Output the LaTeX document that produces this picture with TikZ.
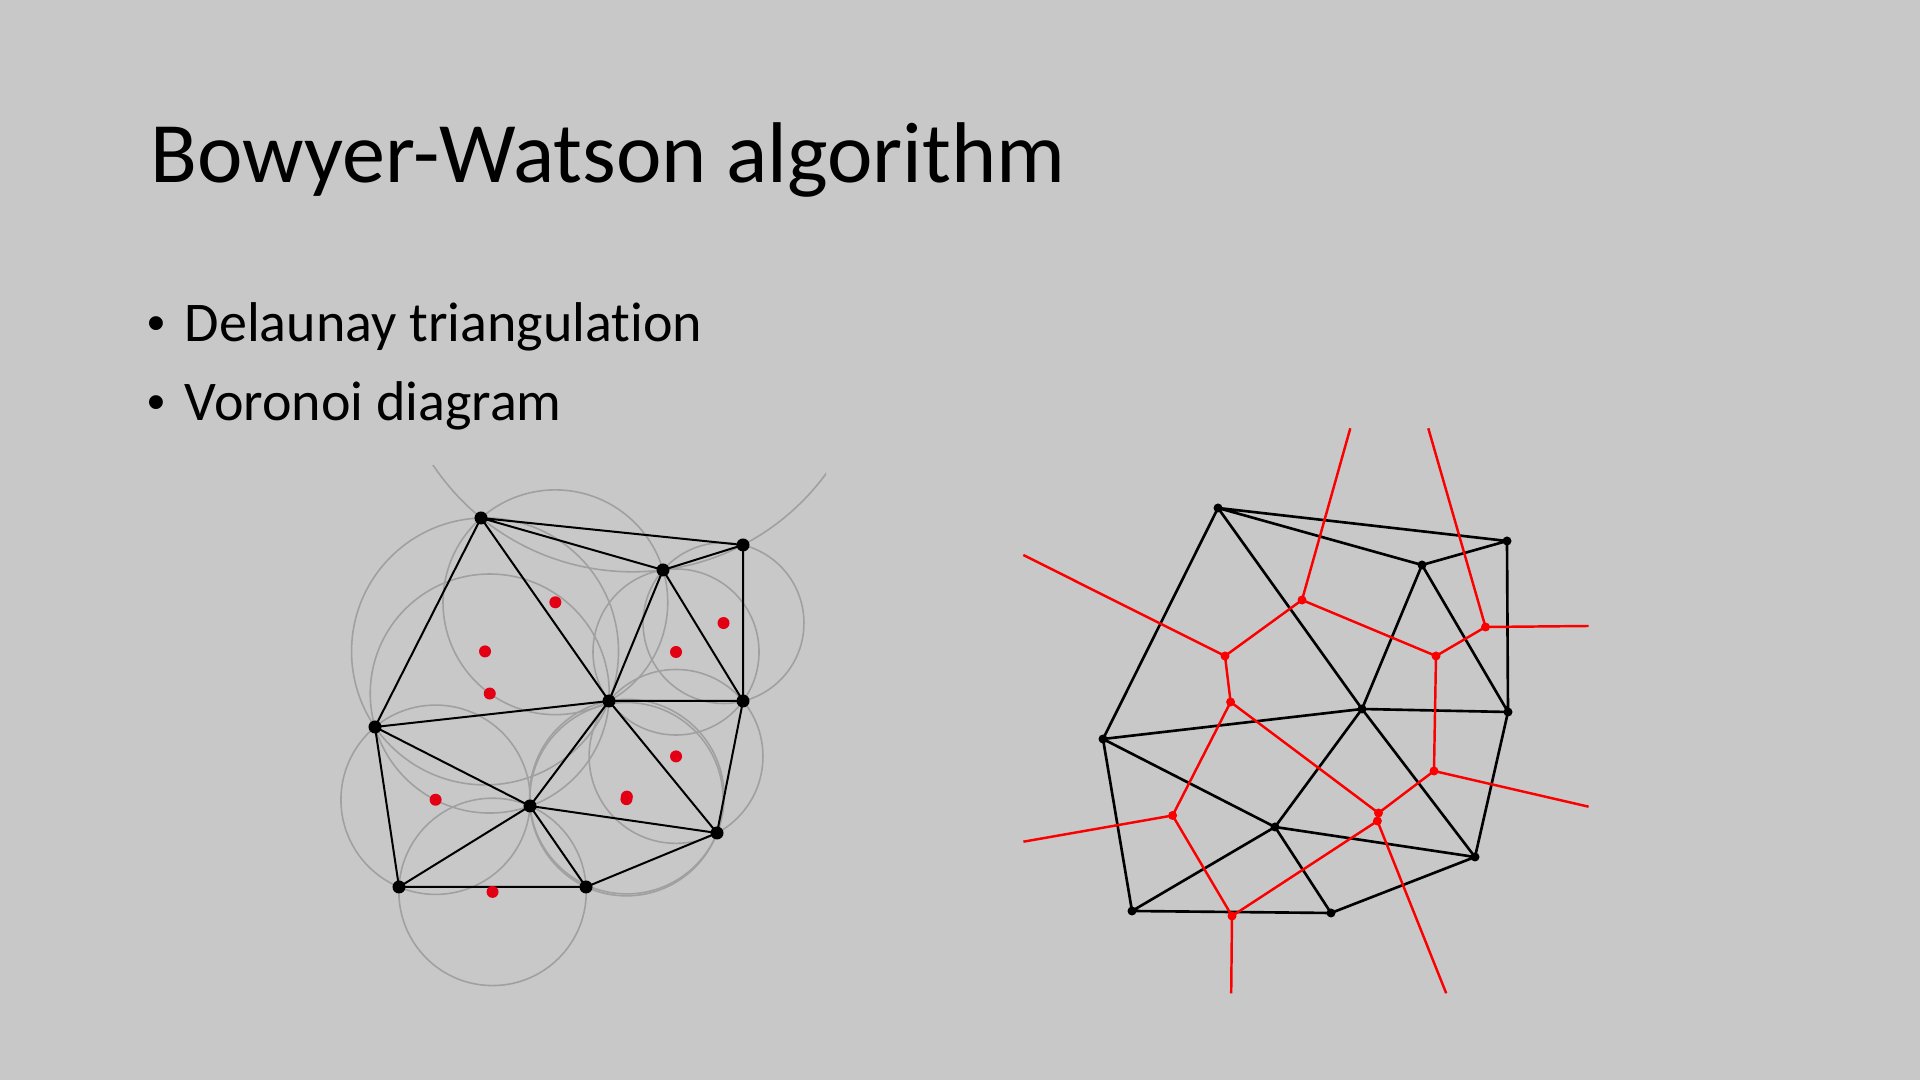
\documentclass[tikz,border=0pt]{standalone}
\usepackage{fontspec}
\setmainfont{Carlito}[Ligatures=NoCommon]
\newfontfamily\bulletfont{Liberation Sans}
\usetikzlibrary{calc,through}
\definecolor{bg}{RGB}{200,200,200}
\definecolor{circgray}{RGB}{160,160,160}
\definecolor{dotred}{RGB}{228,0,20}
\definecolor{vred}{RGB}{250,0,0}
\newcommand{\ccirc}[4]{%
  \coordinate (#1m1) at ($(#2)!0.5!(#3)$);
  \coordinate (#1n1) at ($(#1m1)!1!90:(#3)$);
  \coordinate (#1m2) at ($(#2)!0.5!(#4)$);
  \coordinate (#1n2) at ($(#1m2)!1!90:(#4)$);
  \coordinate (#1) at (intersection of #1m1--#1n1 and #1m2--#1n2);
  \node[circum, circle through={(#2)}] (#1c) at (#1) {};
}
\tikzset{
  circum/.style={draw=circgray, line width=0.45pt},
  ldot/.style={circle, fill=black, inner sep=0pt, minimum size=0.13cm},
  lred/.style={circle, fill=dotred, inner sep=0pt, minimum size=0.12cm},
  rdot/.style={circle, fill=black, inner sep=0pt, minimum size=0.09cm},
  rred/.style={circle, fill=vred, inner sep=0pt, minimum size=0.09cm},
  ledge/.style={draw=black, line width=0.57pt},
  redge/.style={draw=black, line width=0.75pt},
  vedge/.style={draw=vred, line width=0.7pt},
  titletext/.style={font=\fontsize{24.5}{29}\selectfont, anchor=base west, inner sep=0pt},
  bodytext/.style={font=\fontsize{15.93}{19}\selectfont, anchor=base west, inner sep=0pt},
  bullettext/.style={font=\bulletfont\fontsize{14.5}{16}\selectfont, anchor=base west, inner sep=0pt},
}
\begin{document}
\begin{tikzpicture}[x=0.01cm,y=-0.01cm]
\fill[bg] (0,0) rectangle (1920,1080);
\useasboundingbox (0,0) rectangle (1920,1080);

% texts
\node[titletext] (title) at (150,183) {Bowyer-Watson algorithm};
\node[bullettext] (b1dot) at (147,341) {•};
\node[bodytext] (b1) at (184,342) {Delaunay triangulation};
\node[bullettext] (b2dot) at (147,420) {•};
\node[bodytext] (b2) at (184,421) {Voronoi diagram};

% ---------- left: Delaunay triangulation with circumcircles ----------
\coordinate (A) at (481,518);
\coordinate (B) at (743,545);
\coordinate (C) at (663,570);
\coordinate (D) at (609,701);
\coordinate (E) at (743,701);
\coordinate (F) at (375,727);
\coordinate (G) at (530,806);
\coordinate (H) at (717,833);
\coordinate (I) at (399,887);
\coordinate (J) at (586,887);

\begin{scope}
  \clip (330,466) rectangle (826,1005);
  \ccirc{Tabc}{A}{B}{C}
  \ccirc{Tacd}{A}{C}{D}
  \ccirc{Tafd}{A}{F}{D}
  \ccirc{Tcbe}{C}{B}{E}
  \ccirc{Tcde}{C}{D}{E}
  \ccirc{Tfdg}{F}{D}{G}
  \ccirc{Tfgi}{F}{G}{I}
  \ccirc{Tdgh}{D}{G}{H}
  \ccirc{Tdeh}{D}{E}{H}
  \ccirc{Tgij}{G}{I}{J}
  \ccirc{Tgjh}{G}{J}{H}
\end{scope}

\draw[ledge] (A)--(B) (A)--(C) (C)--(B) (A)--(F) (A)--(D) (C)--(D) (C)--(E)
  (B)--(E) (D)--(E) (F)--(D) (F)--(G) (F)--(I) (D)--(G) (D)--(H) (E)--(H)
  (G)--(H) (G)--(I) (G)--(J) (I)--(J) (J)--(H);

\foreach \t in {Tacd,Tafd,Tcbe,Tcde,Tfdg,Tfgi,Tdgh,Tdeh,Tgij,Tgjh}
  \node[lred] (\t r) at (\t) {};
\foreach \p in {A,B,C,D,E,F,G,H,I,J}
  \node[ldot] (\p d) at (\p) {};

% ---------- right: Delaunay + Voronoi ----------
\coordinate (pA) at (1218,508);
\coordinate (pB) at (1507,541);
\coordinate (pC) at (1422,565);
\coordinate (pD) at (1362,709);
\coordinate (pE) at (1508,712);
\coordinate (pF) at (1103,739);
\coordinate (pG) at (1275,827);
\coordinate (pH) at (1475,857);
\coordinate (pI) at (1132,911);
\coordinate (pJ) at (1331,913);

\coordinate (vACD) at (1302,600);
\coordinate (vAFD) at (1225,656);
\coordinate (vCDE) at (1436,656);
\coordinate (vCBE) at (1485.5,627);
\coordinate (vFDG) at (1230.6,702);
\coordinate (vDEH) at (1434,771);
\coordinate (vDGH) at (1378.5,813);
\coordinate (vGJH) at (1377.4,821);
\coordinate (vFGI) at (1172.6,815.5);
\coordinate (vGIJ) at (1232,916);

\coordinate (eAC) at (1350.3,428.3);
\coordinate (eBC) at (1428.3,428.3);
\coordinate (eAF) at (1023.3,555);
\coordinate (eBE) at (1588.6,626);
\coordinate (eEH) at (1588.6,806.7);
\coordinate (eHJ) at (1446.2,993.3);
\coordinate (eIJ) at (1231.2,993.3);
\coordinate (eFI) at (1023.4,841.7);

\draw[redge] (pA)--(pB) (pA)--(pC) (pC)--(pB) (pA)--(pF) (pA)--(pD) (pC)--(pD)
  (pC)--(pE) (pB)--(pE) (pD)--(pE) (pF)--(pD) (pF)--(pG) (pF)--(pI) (pD)--(pG)
  (pD)--(pH) (pE)--(pH) (pG)--(pH) (pG)--(pI) (pG)--(pJ) (pI)--(pJ) (pJ)--(pH);

\draw[vedge] (vACD)--(eAC) (vCBE)--(eBC) (vACD)--(vAFD) (vACD)--(vCDE)
  (vCBE)--(vCDE) (vAFD)--(vFDG) (vCDE)--(vDEH) (vFDG)--(vFGI) (vFDG)--(vDGH)
  (vDEH)--(vDGH) (vDGH)--(vGJH) (vFGI)--(vGIJ) (vGIJ)--(vGJH)
  (vAFD)--(eAF) (vCBE)--(eBE) (vDEH)--(eEH) (vGJH)--(eHJ) (vGIJ)--(eIJ)
  (vFGI)--(eFI);

\foreach \v in {vACD,vAFD,vCDE,vCBE,vFDG,vDEH,vDGH,vGJH,vFGI,vGIJ}
  \node[rred] (\v d) at (\v) {};
\foreach \p in {pA,pB,pC,pD,pE,pF,pG,pH,pI,pJ}
  \node[rdot] (\p d) at (\p) {};
\end{tikzpicture}
\end{document}
